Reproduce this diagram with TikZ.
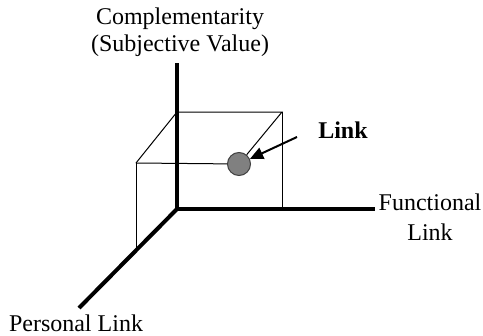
\documentclass[tikz,border=0pt]{standalone}
\usepackage{fontspec}
\setmainfont{Liberation Serif}
\usetikzlibrary{arrows.meta}
\begin{document}
\begin{tikzpicture}[x=0.75pt,y=-0.75pt,
  axis/.style={line width=3pt},
  edge/.style={line width=0.75pt},
  lbl/.style={align=center, inner sep=0pt, font=\fontsize{18}{20}\selectfont}]
\useasboundingbox (0,0) rectangle (483,336);
% axes
\coordinate (o) at (177,209);
\coordinate (up) at (177,63);
\coordinate (right) at (375,209);
\coordinate (down) at (79,308);
% box corners
\coordinate (btl) at (177,112);
\coordinate (btr) at (282,112);
\coordinate (bbr) at (282,209);
\coordinate (ftl) at (136,163);
\coordinate (fbl) at (136,250);
\coordinate (tail) at (297,137);
\node[circle, draw=black!75, fill=black!50, line width=0.75pt, inner sep=0pt, minimum size=17.25pt] (dot) at (239,164) {};
\draw[edge] (ftl) -- (btl) -- (btr) -- (dot);
\draw[edge] (ftl) -- (dot);
\draw[edge] (ftl) -- (fbl);
\draw[edge] (btr) -- (bbr);
\draw[axis] (up) -- (o) -- (right);
\draw[axis] (o) -- (down);
\draw[line width=1.5pt, -{Triangle[length=10pt,width=9pt]}] (tail) -- (dot);
% labels
\node[lbl] (compl) at (180,32) {Complementarity\\(Subjective Value)};
\node[lbl, font=\fontsize{18}{22.5}\selectfont] (func) at (430,217) {Functional\\Link};
\node[lbl, font=\fontsize{18}{20}\selectfont\bfseries] (link) at (343,130) {Link};
\node[lbl] (pers) at (76,323) {Personal Link};
\end{tikzpicture}
\end{document}
